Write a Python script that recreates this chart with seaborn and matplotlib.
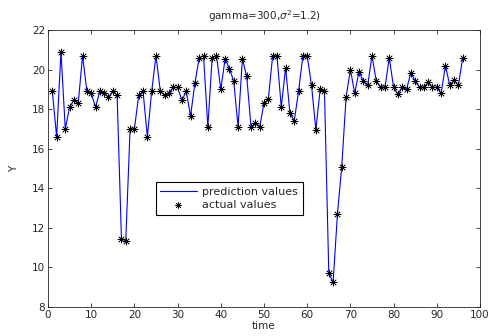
import numpy as np
import pandas as pd
import matplotlib
matplotlib.use("Agg")
import matplotlib.pyplot as plt
import seaborn as sns

time = list(range(1, 97))
actual = [18.9, 16.6, 20.9, 17.0, 18.1, 18.45, 18.3, 20.7, 18.9, 18.8,
          18.1, 18.9, 18.8, 18.6, 18.9, 18.7, 11.45, 11.35, 17.0, 17.0,
          18.7, 18.9, 16.6, 18.9, 20.7, 18.9, 18.7, 18.8, 19.1, 19.1,
          18.45, 18.9, 17.65, 19.3, 20.6, 20.7, 17.1, 20.6, 20.7, 19.0,
          20.55, 20.05, 19.4, 17.1, 20.55, 19.65, 17.1, 17.3, 17.1, 18.3,
          18.5, 20.7, 20.7, 18.1, 20.1, 17.8, 17.4, 18.9, 20.7, 20.7,
          19.2, 16.95, 19.0, 18.9, 9.7, 9.25, 12.7, 15.1, 18.6, 20.0,
          18.8, 19.9, 19.4, 19.2, 20.7, 19.4, 19.1, 19.1, 20.6, 19.1,
          18.75, 19.1, 19.0, 19.85, 19.4, 19.1, 19.1, 19.35, 19.1, 19.1,
          18.8, 20.2, 19.2, 19.45, 19.2, 20.6]
prediction = [18.9, 16.6, 20.9, 17.0, 18.1, 18.45, 18.3, 20.7, 18.9, 18.8,
              18.1, 18.9, 18.8, 18.6, 18.9, 18.7, 11.45, 11.35, 17.0, 17.0,
              18.7, 18.9, 16.6, 18.9, 20.7, 18.9, 18.7, 18.8, 19.1, 19.1,
              18.45, 18.9, 17.65, 19.3, 20.6, 20.7, 17.1, 20.6, 20.7, 19.0,
              20.55, 20.05, 19.4, 17.1, 20.55, 19.65, 17.1, 17.3, 17.1, 18.3,
              18.5, 20.7, 20.7, 18.1, 20.1, 17.8, 17.4, 18.9, 20.7, 20.7,
              19.2, 16.95, 19.0, 18.9, 9.7, 9.25, 12.7, 15.1, 18.6, 20.0,
              18.8, 19.9, 19.4, 19.2, 20.7, 19.4, 19.1, 19.1, 20.6, 19.1,
              18.75, 19.1, 19.0, 19.85, 19.4, 19.1, 19.1, 19.35, 19.1, 19.1,
              18.8, 20.2, 19.2, 19.45, 19.2, 20.6]

df = pd.DataFrame({"time": time, "actual": actual, "prediction": prediction})

sns.set_style("ticks")
plt.rcParams["font.family"] = ["DejaVu Sans"]
plt.rcParams["mathtext.fontset"] = "dejavusans"

fig = plt.figure(figsize=(4.91, 3.36), dpi=100)
ax = fig.add_axes([48 / 491, 1 - 307 / 336, 432 / 491, 277 / 336])

sns.lineplot(data=df, x="time", y="prediction", color="#0000ff", linewidth=0.8,
             label="prediction values", ax=ax)
sns.scatterplot(data=df, x="time", y="actual", marker=(8, 2, 0), color="black",
                s=26, linewidth=0.5, label="actual values", ax=ax, zorder=3)

ax.set_xlim(0, 100)
ax.set_ylim(8, 22)
ax.set_xticks(range(0, 101, 10))
ax.set_yticks(range(8, 23, 2))
ax.tick_params(direction="in", top=True, right=True, labelsize=7.5, length=3,
               width=0.6, pad=2)
for s in ax.spines.values():
    s.set_linewidth(0.6)
ax.set_xlabel("time", fontsize=7.5, labelpad=1)
ax.set_ylabel("Y", fontsize=7.5, labelpad=9)
ax.set_title(r"gamma=300,$\sigma^2$=1.2)", fontsize=7.5, pad=7)

leg = ax.legend(loc="upper left", bbox_to_anchor=(0.249, 0.451), borderaxespad=0,
                fontsize=8, frameon=True, fancybox=False, handlelength=3.3,
                handletextpad=0.5, labelspacing=0.35, edgecolor="black",
                framealpha=1, markerscale=0.8)
leg.get_frame().set_linewidth(0.8)

fig.savefig("out.png", dpi=100)
